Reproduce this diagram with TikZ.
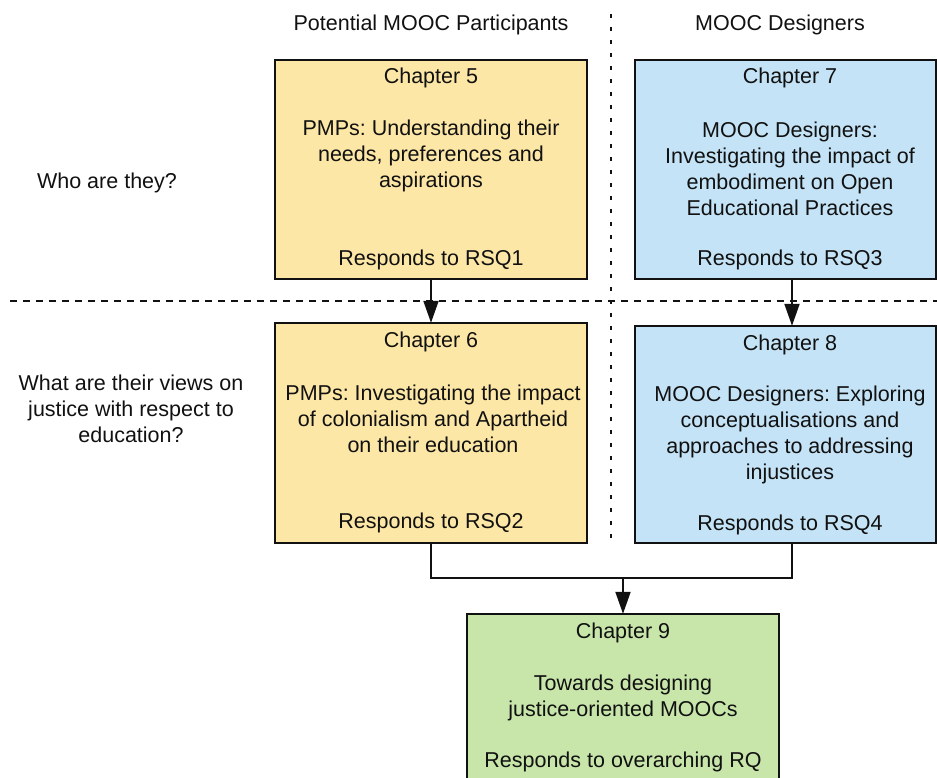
\documentclass[tikz,border=0pt]{standalone}
\usepackage{fontspec}
\setmainfont{Liberation Sans}
\usetikzlibrary{arrows.meta}
\definecolor{pmpfill}{HTML}{FDE7A6}
\definecolor{desfill}{HTML}{C4E3F6}
\definecolor{synfill}{HTML}{C8E6AA}
\definecolor{ink}{HTML}{111111}
\frenchspacing
\begin{document}
\begin{tikzpicture}[x=1pt,y=-1pt,
  every node/.style={font=\fontsize{21.5}{25.8}\selectfont, text=ink, inner sep=0pt, align=center},
  chapbox/.style={draw=ink, line width=2pt},
  flow/.style={draw=ink, line width=2pt, -{Triangle[length=22pt,width=15pt]}},
  link/.style={draw=ink, line width=2pt},
  divider/.style={draw=ink, line width=1.5pt, dash pattern=on 7pt off 6pt},
  column/.style={draw=ink, line width=2pt, dash pattern=on 4pt off 9pt}]
\useasboundingbox (0,0) rectangle (937,778);

% grid dividers
\coordinate (hdL) at (10,301);
\coordinate (hdR) at (937,301);
\coordinate (vdT) at (611,14);
\coordinate (vdB) at (611,542);
\draw[divider] (hdL) -- (hdR);
\draw[column] (vdT) -- (vdB);

% column and row headings
\node (colA) at (431,25) {Potential MOOC Participants};
\node (colB) at (780,25) {MOOC Designers};
\node (rowA) at (107,183) {Who are they?};
\node (rowB) at (131,409) {What are their views on\\justice with respect to\\education?};

% chapter boxes
\path[fill=pmpfill, chapbox] (275,60) rectangle (587,279);
\node (c5) at (431,169.5) [minimum width=312pt, minimum height=219pt] {};
\path[fill=desfill, chapbox] (635,60) rectangle (936,279);
\node (c7) at (785.5,169.5) [minimum width=301pt, minimum height=219pt] {};
\path[fill=pmpfill, chapbox] (275,323) rectangle (587,543);
\node (c6) at (431,433) [minimum width=312pt, minimum height=220pt] {};
\path[fill=desfill, chapbox] (635,326) rectangle (936,543);
\node (c8) at (785.5,434.5) [minimum width=301pt, minimum height=217pt] {};
\path[fill=synfill, chapbox] (467,614) rectangle (779,790);
\node (c9) at (623,702) [minimum width=312pt, minimum height=176pt] {};

% chapter 5
\node (c5t) at (431,78) {Chapter 5};
\node (c5b) at (431,156) {PMPs: Understanding their\\needs, preferences and\\aspirations};
\node (c5r) at (431,260) {Responds to RSQ1};
% chapter 7
\node (c7t) at (790,78) {Chapter 7};
\node (c7b) at (790,169) {MOOC Designers:\\Investigating the impact of\\embodiment on Open\\Educational Practices};
\node (c7r) at (790,260) {Responds to RSQ3};
% chapter 6
\node (c6t) at (431,342) {Chapter 6};
\node (c6b) at (433,419) {PMPs: Investigating the impact\\of colonialism and Apartheid\\on their education};
\node (c6r) at (431,523) {Responds to RSQ2};
% chapter 8
\node (c8t) at (790,345) {Chapter 8};
\node (c8b) at (790,435) {MOOC Designers: Exploring\\conceptualisations and\\approaches to addressing\\injustices};
\node (c8r) at (790,525) {Responds to RSQ4};
% chapter 9
\node (c9t) at (623,633) {Chapter 9};
\node (c9b) at (623,698) {Towards designing\\justice-oriented MOOCs};
\node (c9r) at (623,762) {Responds to overarching RQ};

% connectors
\draw[flow] (c5.south -| 431,0) -- (c6.north -| 431,0);
\draw[flow] (c7.south -| 792,0) -- (c8.north -| 792,0);
\coordinate (join) at (623,578);
\draw[link] (c6.south -| 431,0) |- (join) -| (c8.south -| 792,0);
\draw[flow] (join) -- (c9.north);
\end{tikzpicture}
\end{document}
